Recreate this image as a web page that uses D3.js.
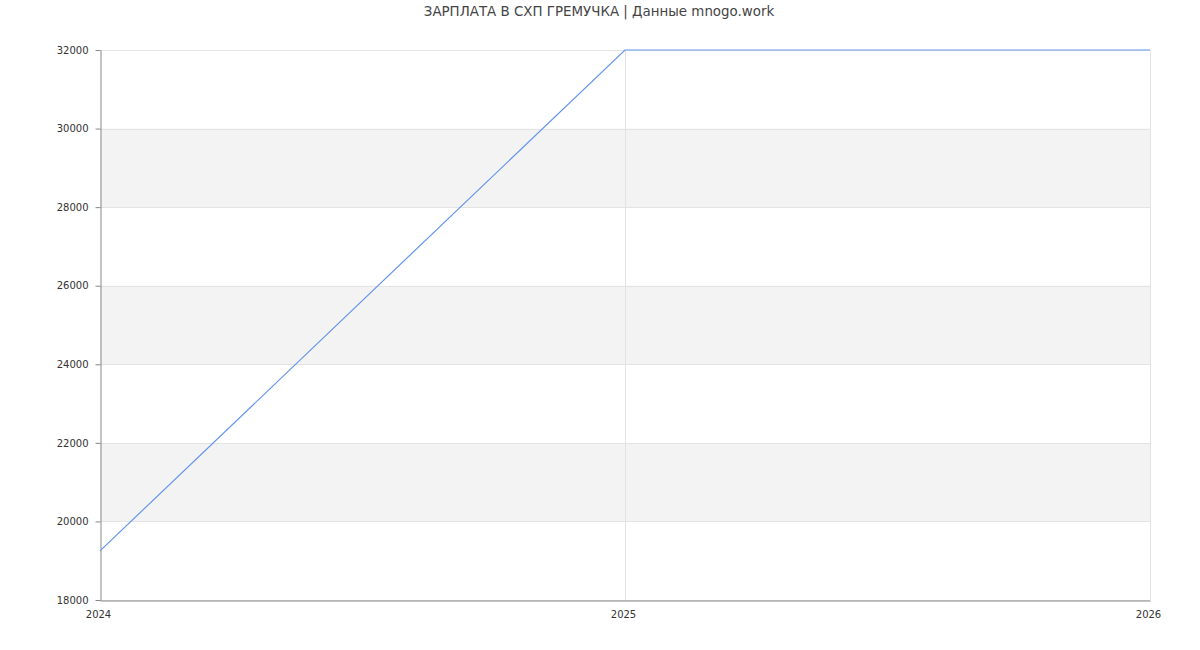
<!DOCTYPE html>
<html><head><meta charset="utf-8">
<script src="https://cdn.jsdelivr.net/npm/d3@7"></script>
<style>body{margin:0;background:#fff;font-family:"DejaVu Sans",sans-serif;}</style>
</head><body>
<svg id="c" width="1200" height="650"></svg>
<script>
const title = "ЗАРПЛАТА В СХП ГРЕМУЧКА | Данные mnogo.work";
const years = [2024, 2025, 2026];
const salaries = [19250, 32000, 32000];
const yTicks = [18000, 20000, 22000, 24000, 26000, 28000, 30000, 32000];
const bands = [[20000, 22000], [24000, 26000], [28000, 30000]];

const svg = d3.select("#c");
const m = {l: 100, r: 50, t: 50, b: 50};
const W = 1200, H = 650;
const x = d3.scaleLinear().domain([2024, 2026]).range([m.l, W - m.r]);
const y = d3.scaleLinear().domain([18000, 32000]).range([H - m.b, m.t]);

svg.append("text").attr("x", 599).attr("y", 16).attr("text-anchor", "middle")
  .attr("font-size", 13.4).attr("fill", "#444").text(title);

svg.selectAll("rect.band").data(bands).join("rect")
  .attr("x", x(2024)).attr("width", x(2026) - x(2024))
  .attr("y", d => y(d[1])).attr("height", d => y(d[0]) - y(d[1]))
  .attr("fill", "#f3f3f3");

svg.selectAll("line.hg").data(yTicks).join("line")
  .attr("x1", x(2024)).attr("x2", x(2026))
  .attr("y1", d => Math.round(y(d)) + 0.5).attr("y2", d => Math.round(y(d)) + 0.5)
  .attr("stroke", "#e3e3e3");
svg.selectAll("line.vg").data(years.slice(1)).join("line")
  .attr("x1", d => Math.round(x(d)) + 0.5).attr("x2", d => Math.round(x(d)) + 0.5)
  .attr("y1", y(32000)).attr("y2", y(18000))
  .attr("stroke", "#e3e3e3");

const yAxis = svg.append("g").attr("transform", `translate(${m.l + 0.5},0)`)
  .call(d3.axisLeft(y).tickValues(yTicks).tickFormat(d3.format("d")).tickSize(5).tickSizeOuter(0));
const xAxis = svg.append("g").attr("transform", `translate(0,${H - m.b + 0.5})`)
  .call(d3.axisBottom(x).tickValues(years).tickFormat(d3.format("d")).tickSize(0).tickPadding(10));
[yAxis, xAxis].forEach(a => {
  a.selectAll("path,line").attr("stroke", "#888");
  a.selectAll("text").attr("fill", "#333").attr("font-size", 10)
    .attr("font-family", "'DejaVu Sans',sans-serif");
});
yAxis.selectAll("text").attr("x", -12);
xAxis.selectAll("text").attr("dx", -2);

svg.append("path").datum(years.map((yr, i) => [yr, salaries[i]]))
  .attr("fill", "none").attr("stroke", "#6495ED").attr("stroke-width", 1.2)
  .attr("d", d3.line().x(d => x(d[0])).y(d => y(d[1])));
</script>
</body></html>
